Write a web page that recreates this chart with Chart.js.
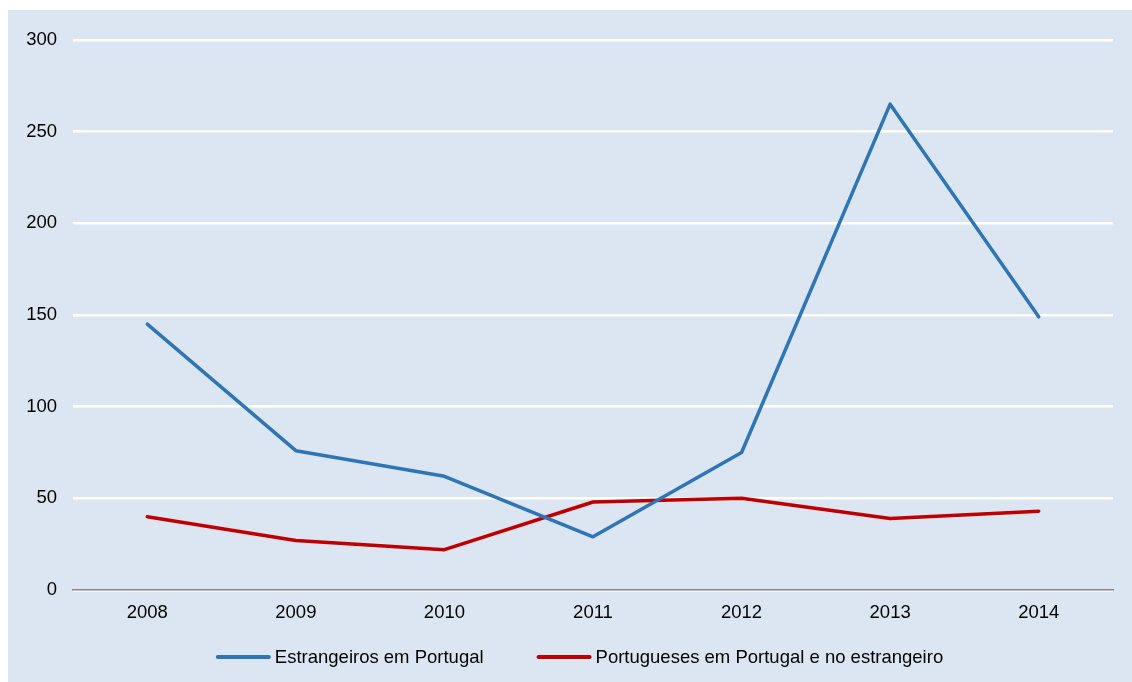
<!DOCTYPE html>
<html>
<head>
<meta charset="utf-8">
<script src="https://cdn.jsdelivr.net/npm/chart.js@4"></script>
<style>
  body { margin: 0; background: #fff; }
  #wrap {
    position: absolute;
    left: 8px;
    top: 10px;
    width: 1124px;
    height: 672px;
    background: #dce6f2;
  }
</style>
</head>
<body>
<div id="wrap"><canvas id="chart"></canvas></div>
<script>
const years = ["2008", "2009", "2010", "2011", "2012", "2013", "2014"];
const estrangeiros = [145, 76, 62, 29, 75, 265, 149];
const portugueses = [40, 27, 22, 48, 50, 39, 43];
const yTicks = [0, 50, 100, 150, 200, 250, 300];

const FONT = { family: "'Liberation Sans', Arial, sans-serif", size: 18.5 };

// Legend drawn by hand: the built-in one ties item gap to its vertical padding
const bottomLegend = {
  id: "bottomLegend",
  afterDraw(chart) {
    const c = chart.ctx;
    const sets = chart.data.datasets;
    const lineLen = 55, textGap = 4, itemGap = 53;
    c.save();
    c.font = `${FONT.size}px ${FONT.family}`;
    const widths = sets.map((ds) => c.measureText(ds.label).width);
    const total =
      widths.reduce((a, w) => a + w + lineLen + textGap, 0) +
      itemGap * (sets.length - 1);
    let x = 571.5 - total / 2;
    const y = 647;
    c.textBaseline = "middle";
    c.textAlign = "left";
    sets.forEach((ds, i) => {
      c.strokeStyle = ds.borderColor;
      c.lineWidth = 4;
      c.lineCap = "round";
      c.beginPath();
      c.moveTo(x + 2, y);
      c.lineTo(x + lineLen - 2, y);
      c.stroke();
      x += lineLen + textGap;
      c.fillStyle = "#000";
      c.fillText(ds.label, x, y + 1);
      x += widths[i] + itemGap;
    });
    c.restore();
  },
};

const ctx = document.getElementById("chart").getContext("2d");

new Chart(ctx, {
  type: "line",
  data: {
    labels: years,
    datasets: [
      {
        label: "Estrangeiros em Portugal",
        data: estrangeiros,
        borderColor: "#2e75b6",
        borderWidth: 3.5,
        borderCapStyle: "round",
        borderJoinStyle: "round",
        pointRadius: 0,
        tension: 0,
      },
      {
        label: "Portugueses em Portugal e no estrangeiro",
        data: portugueses,
        borderColor: "#c00000",
        borderWidth: 3.5,
        borderCapStyle: "round",
        borderJoinStyle: "round",
        pointRadius: 0,
        tension: 0,
      },
    ],
  },
  options: {
    responsive: true,
    maintainAspectRatio: false,
    animation: false,
    layout: { padding: { top: 30, right: 19, left: 0, bottom: 56 } },
    plugins: {
      tooltip: { enabled: false },
      legend: { display: false },
    },
    scales: {
      x: {
        offset: true,
        grid: { display: false, drawTicks: false },
        border: { display: true, color: "#868686", width: 1.5 },
        ticks: { color: "#000", font: FONT, padding: 12, maxRotation: 0 },
        afterFit: (scale) => { scale.height = 36; },
      },
      y: {
        min: 0,
        max: 300,
        afterBuildTicks: (scale) => {
          scale.ticks = yTicks.map((v) => ({ value: v }));
        },
        grid: { color: "#ffffff", lineWidth: 2.5, drawTicks: false },
        border: { display: false },
        ticks: { color: "#000", font: FONT, padding: 16 },
        afterFit: (scale) => { scale.width = 65; },
      },
    },
  },
  plugins: [bottomLegend],
});
</script>
</body>
</html>
